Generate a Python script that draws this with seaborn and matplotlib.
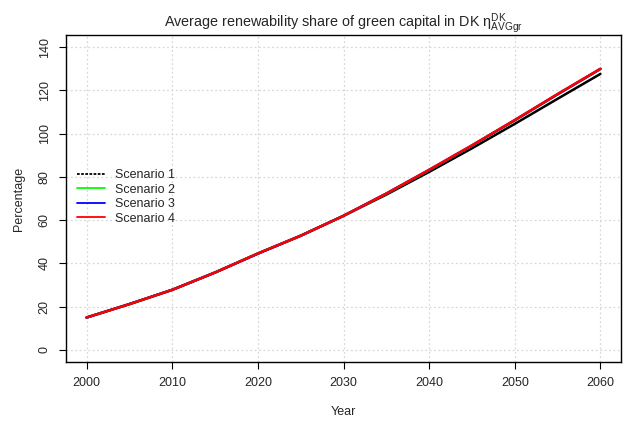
import pandas as pd
import seaborn as sns
import matplotlib.pyplot as plt

# === Data ===
years = [2000, 2005, 2010, 2015, 2020, 2025, 2030, 2035, 2040, 2045, 2050, 2055, 2060]
scenario1 = [15.0, 21.2, 27.8, 35.8, 44.6, 52.8, 62.0, 71.8, 82.3, 93.2, 104.5, 116.1, 127.6]
scenario2 = [15.0, 21.2, 27.8, 35.8, 44.6, 52.8, 62.0, 72.2, 83.1, 94.4, 106.1, 118.1, 129.8]
scenario3 = [15.0, 21.2, 27.8, 35.8, 44.5, 52.8, 62.0, 72.3, 83.2, 94.5, 106.2, 118.2, 129.9]
scenario4 = [15.0, 21.2, 27.8, 35.8, 44.6, 52.8, 62.0, 72.3, 83.3, 94.6, 106.3, 118.3, 130.0]
names = ["Scenario 1", "Scenario 2", "Scenario 3", "Scenario 4"]
colors = ["black", "#00ff00", "blue", "red"]

rows = []
for name, vals in zip(names, [scenario1, scenario2, scenario3, scenario4]):
    for y, v in zip(years, vals):
        rows.append({"Year": y, "Percentage": v, "Scenario": name})
df = pd.DataFrame(rows)

# === Style ===
sns.set_theme(style="white")
plt.rcParams['font.family'] = ['Liberation Sans', 'DejaVu Sans']
plt.rcParams['mathtext.fontset'] = 'custom'
plt.rcParams['mathtext.rm'] = 'Liberation Sans'
plt.rcParams['mathtext.it'] = 'Liberation Sans:italic'

fig = plt.figure(figsize=(6.25, 4.26), dpi=100)
ax = fig.add_axes([0.1056, 0.150, 0.888, 0.768])

sns.lineplot(data=df, x="Year", y="Percentage", hue="Scenario",
             palette=dict(zip(names, colors)), linewidth=1.8, ax=ax)

ax.set_xlim(1997.6, 2062.4)
ax.set_ylim(-5.6, 145.6)
ax.set_xticks(range(2000, 2061, 10))
ax.set_yticks(range(0, 141, 20))
ax.tick_params(axis='both', labelsize=9, length=5, width=0.8, color='black',
               direction='out', left=True, bottom=True, pad=6)
for lab in ax.get_yticklabels():
    lab.set_rotation(90)
    lab.set_va('center')
ax.grid(True, color='#d8d8d8', linestyle=(0, (1.5, 2)), linewidth=0.9)
for sp in ax.spines.values():
    sp.set_color('black')
    sp.set_linewidth(1.0)

ax.set_xlabel("Year", fontsize=9, labelpad=12)
ax.set_ylabel("Percentage", fontsize=9, labelpad=10)
ax.set_title(r"Average renewability share of green capital in DK $\mathrm{\eta^{DK}_{AVGgr}}$",
             fontsize=10.4, pad=6)

leg = ax.legend(loc='center left', bbox_to_anchor=(0.0, 0.505), frameon=False,
                fontsize=9, handlelength=2.2, labelspacing=0.2, handletextpad=0.8)
for line in leg.get_lines():
    line.set_linewidth(1.3)
leg.get_lines()[0].set_linestyle((0, (1.5, 0.8)))

fig.savefig("out.png", dpi=100)
